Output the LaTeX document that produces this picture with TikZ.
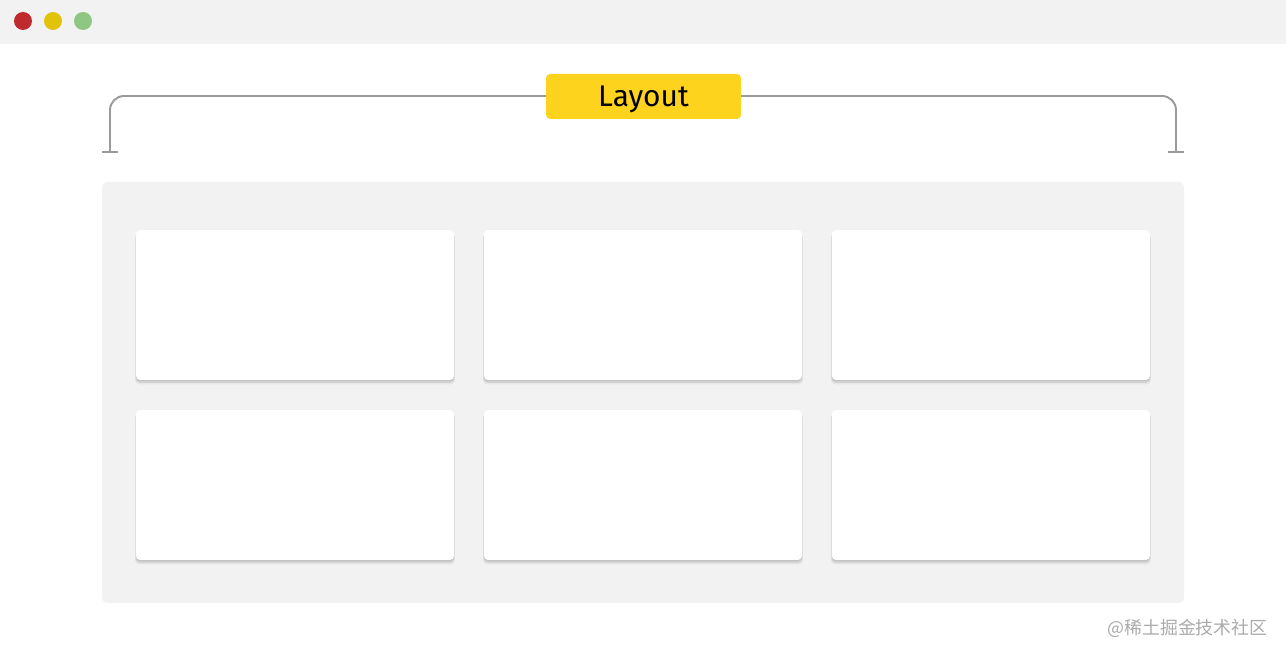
\documentclass[tikz,border=0pt]{standalone}
\usepackage{fontspec}
\setmainfont{Fira Sans}
\newfontfamily\cjk{Noto Sans CJK SC}
\usetikzlibrary{shadows, positioning}

\definecolor{barGray}{HTML}{F2F2F2}
\definecolor{panelGray}{HTML}{F2F2F2}
\definecolor{lineGray}{HTML}{9A9A9A}
\definecolor{labelYellow}{HTML}{FED31E}
\definecolor{dotRed}{HTML}{C0292E}
\definecolor{dotYellow}{HTML}{E2C30C}
\definecolor{dotGreen}{HTML}{8FC782}
\definecolor{markGray}{HTML}{ABABAB}

\tikzset{
  card/.style={fill=white, rounded corners=2.3pt, inner sep=0pt, outer sep=0pt,
    minimum width=6.36cm, minimum height=3cm,
    general shadow={shadow xshift=0pt, shadow yshift=-2.2pt, shadow scale=1.006, opacity=0.05, fill=black},
    general shadow={shadow xshift=0pt, shadow yshift=-1.5pt, shadow scale=1.003, opacity=0.07, fill=black},
    general shadow={shadow xshift=0pt, shadow yshift=-0.8pt, opacity=0.08, fill=black}},
  bracket/.style={draw=lineGray, line width=1.1pt},
}

\begin{document}
\begin{tikzpicture}[x=0.02cm, y=-0.02cm]
    \useasboundingbox (0,0) rectangle (1286,658);
    \fill[white] (0,0) rectangle (1286,658);
    % window bar
    \fill[barGray] (0,0) rectangle (1286,44);
    \fill[dotRed] (23,21) circle (9);
    \fill[dotYellow] (53,21) circle (9);
    \fill[dotGreen] (83,21) circle (9);
    % bracket
    \coordinate (bl) at (110,152);
    \coordinate (br) at (1176,152);
    \draw[bracket, rounded corners=8pt] (bl) -- (110,96) -- (1176,96) -- (br);
    \draw[bracket] (102,152) -- (118,152);
    \draw[bracket] (1168,152) -- (1184,152);
    \node[fill=labelYellow, rounded corners=2.3pt, minimum width=3.9cm, minimum height=0.9cm,
      inner sep=0pt, text depth=0pt, font=\fontsize{17}{20}\selectfont] (layout) at (643.5,96.5) {Layout};
    % panel
    \fill[panelGray, rounded corners=3.4pt] (102,182) rectangle (1184,603);
    \node[card] (c11) at (295,305) {};
    \node[card, right=30*0.02cm of c11] (c12) {};
    \node[card, right=30*0.02cm of c12] (c13) {};
    \node[card] (c21) at (295,485) {};
    \node[card, right=30*0.02cm of c21] (c22) {};
    \node[card, right=30*0.02cm of c22] (c23) {};
    % watermark
    \node[text=markGray, font=\cjk\fontsize{10.2}{12}\selectfont, anchor=east, inner sep=0pt] (mark) at (1268,628) {@稀土掘金技术社区};
  \end{tikzpicture}
\end{document}
